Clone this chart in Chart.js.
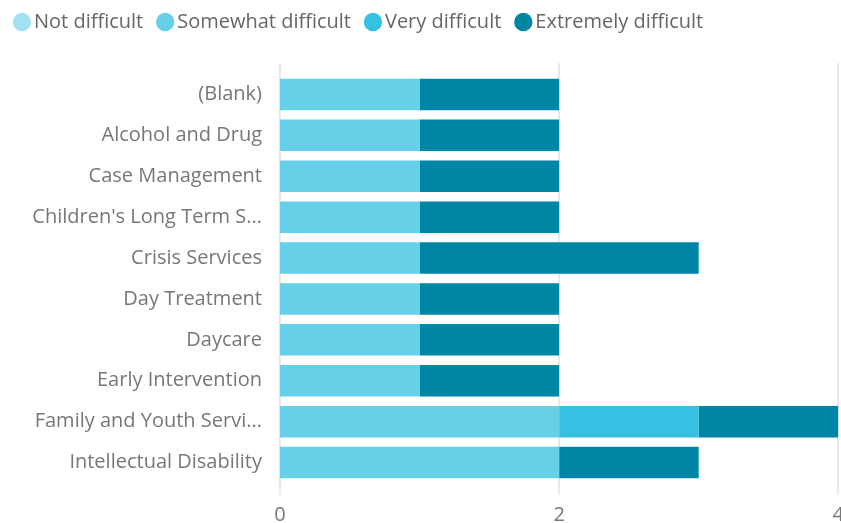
<!DOCTYPE html>
<html>
<head>
<meta charset="utf-8">
<script src="https://cdn.jsdelivr.net/npm/chart.js@4"></script>
<style>
  html, body { margin: 0; padding: 0; background: #fff; overflow: hidden; }
  #wrap { width: 841px; height: 523px; overflow: hidden; position: relative; }
</style>
</head>
<body>
<div id="wrap"><canvas id="chart" width="856" height="523"></canvas></div>
<script>
// categories (truncated the same way the axis shows them)
const categories = [
  "(Blank)",
  "Alcohol and Drug",
  "Case Management",
  "Children's Long Term S...",
  "Crisis Services",
  "Day Treatment",
  "Daycare",
  "Early Intervention",
  "Family and Youth Servi...",
  "Intellectual Disability"
];

const notDifficult       = [0, 0, 0, 0, 0, 0, 0, 0, 0, 0];
const somewhatDifficult  = [1, 1, 1, 1, 1, 1, 1, 1, 2, 2];
const veryDifficult      = [0, 0, 0, 0, 0, 0, 0, 0, 1, 0];
const extremelyDifficult = [1, 1, 1, 1, 2, 1, 1, 1, 1, 1];

const xTicks = [0, 2, 4];

const FONT = "'Segoe UI', 'Open Sans', sans-serif";

// vertical grid lines run a bit past the bar area
const gridLines = {
  id: "gridLines",
  beforeDatasetsDraw(chart) {
    const { ctx, chartArea, scales } = chart;
    ctx.save();
    ctx.strokeStyle = "#e9e9e9";
    ctx.lineWidth = 2;
    xTicks.forEach(v => {
      const x = Math.round(scales.x.getPixelForValue(v));
      ctx.beginPath();
      ctx.moveTo(x, chartArea.top - 11);
      ctx.lineTo(x, chartArea.bottom + 12);
      ctx.stroke();
    });
    ctx.restore();
  }
};

// extra gap under the legend row
const legendGap = {
  id: "legendGap",
  beforeLayout(chart) {
    const lg = chart.legend;
    if (lg && !lg._gapPatched) {
      const fit = lg.fit.bind(lg);
      lg.fit = function () { fit(); this.height += 32; };
      lg._gapPatched = true;
    }
  }
};

new Chart(document.getElementById("chart"), {
  type: "bar",
  data: {
    labels: categories,
    datasets: [
      { label: "Not difficult", data: notDifficult, backgroundColor: "#a2e1f1" },
      { label: "Somewhat difficult", data: somewhatDifficult, backgroundColor: "#66d0e8" },
      { label: "Very difficult", data: veryDifficult, backgroundColor: "#36c1e2" },
      { label: "Extremely difficult", data: extremelyDifficult, backgroundColor: "#0086a5" }
    ]
  },
  options: {
    indexAxis: "y",
    responsive: false,
    animation: false,
    layout: { padding: { left: 0, right: 0, top: -8, bottom: 0 } },
    datasets: {
      bar: { barPercentage: 0.77, categoryPercentage: 1, borderWidth: 0 }
    },
    plugins: {
      tooltip: { enabled: false },
      legend: {
        position: "top",
        align: "start",
        labels: {
          usePointStyle: true,
          pointStyle: "circle",
          boxWidth: 4,
          boxHeight: 13,
          padding: 20,
          color: "#666",
          font: { family: FONT, size: 20 }
        }
      }
    },
    scales: {
      x: {
        stacked: true,
        min: 0,
        max: 4,
        afterBuildTicks: s => { s.ticks = xTicks.map(v => ({ value: v })); },
        grid: { display: false },
        border: { display: false },
        ticks: { color: "#777", padding: 12, font: { family: FONT, size: 20 } },
        afterFit: s => { s.height = 40; }
      },
      y: {
        stacked: true,
        grid: { display: false },
        border: { display: false },
        ticks: { color: "#777", padding: 10, font: { family: FONT, size: 20 } },
        afterFit: s => { s.width = 280; }
      }
    }
  },
  plugins: [gridLines, legendGap]
});
</script>
</body>
</html>
